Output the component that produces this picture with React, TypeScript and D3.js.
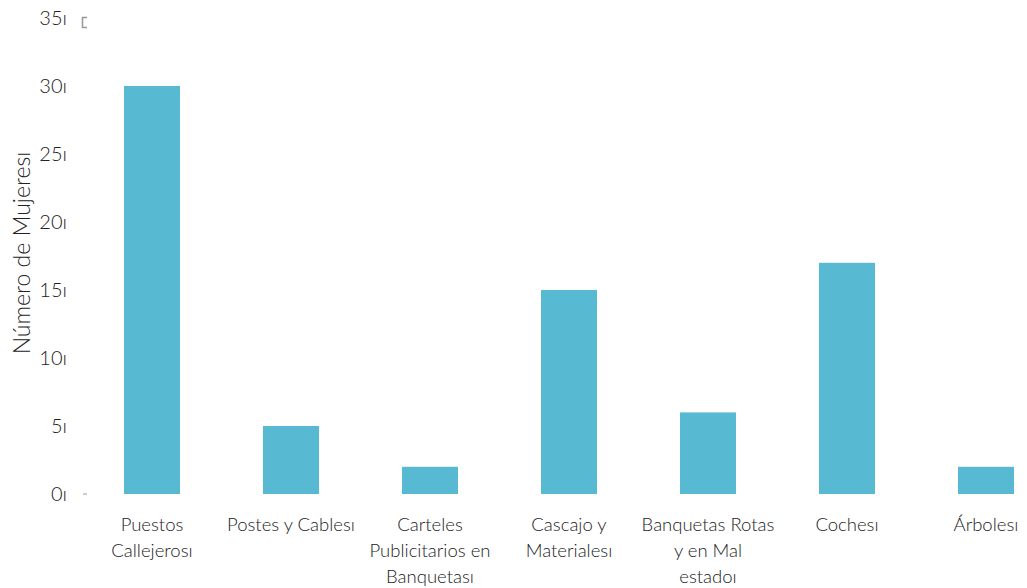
import React from "react";
import * as d3 from "d3";

const categories: string[][] = [
  ["Puestos", "Callejerosı"],
  ["Postes y Cablesı"],
  ["Carteles", "Publicitarios en", "Banquetası"],
  ["Cascajo y", "Materialesı"],
  ["Banquetas Rotas", "y en Mal", "estadoı"],
  ["Cochesı"],
  ["Árbolesı"],
];
const values: number[] = [30, 5, 2, 15, 6, 17, 2];
const yTicks: number[] = [0, 5, 10, 15, 20, 25, 30, 35];
const yTitle = "Número de Mujeresı";

const W = 1027;
const H = 588;
const FONT = "Lato, 'Open Sans', sans-serif";

export default function App() {
  const keys = categories.map((c) => c.join(" "));
  const x = d3
    .scaleBand<string>()
    .domain(keys)
    .range([82.5, 1055.5])
    .paddingInner(0.597)
    .paddingOuter(0.2985);
  const y = d3.scaleLinear().domain([0, 35]).range([494, 18]);

  return (
    <svg
      width={W}
      height={H}
      style={{ position: "absolute", left: 0, top: 0, background: "#fff" }}
      fontFamily={FONT}
    >
      {values.map((v, i) => (
        <rect
          key={i}
          x={x(keys[i])}
          y={y(v)}
          width={x.bandwidth()}
          height={y(0) - y(v)}
          fill="#58BAD2"
        />
      ))}
      {yTicks.map((t) => (
        <text
          key={t}
          x={67}
          y={y(t)}
          dy="0.36em"
          textAnchor="end"
          fontSize={20}
          fontWeight={300}
          fill="#222"
        >
          {t}ı
        </text>
      ))}
      <line x1={83} x2={87} y1={y(0)} y2={y(0)} stroke="#999" strokeWidth={1} />
      <path d="M87,17.5 H82.5 V27.5 H87" fill="none" stroke="#999" strokeWidth={1.5} />
      {categories.map((lines, i) => (
        <text
          key={i}
          x={(x(keys[i]) as number) + x.bandwidth() / 2}
          y={524}
          dy="0.36em"
          textAnchor="middle"
          fontSize={18.5}
          fontWeight={300}
          fill="#222"
        >
          {lines.map((l, j) => (
            <tspan key={j} x={(x(keys[i]) as number) + x.bandwidth() / 2} dy={j === 0 ? "0.36em" : 26}>
              {l}
            </tspan>
          ))}
        </text>
      ))}
      <text
        transform={`translate(22,${253}) rotate(-90)`}
        dy="0.36em"
        textAnchor="middle"
        fontSize={23}
        fontWeight={300}
        fill="#222"
      >
        {yTitle}
      </text>
    </svg>
  );
}
